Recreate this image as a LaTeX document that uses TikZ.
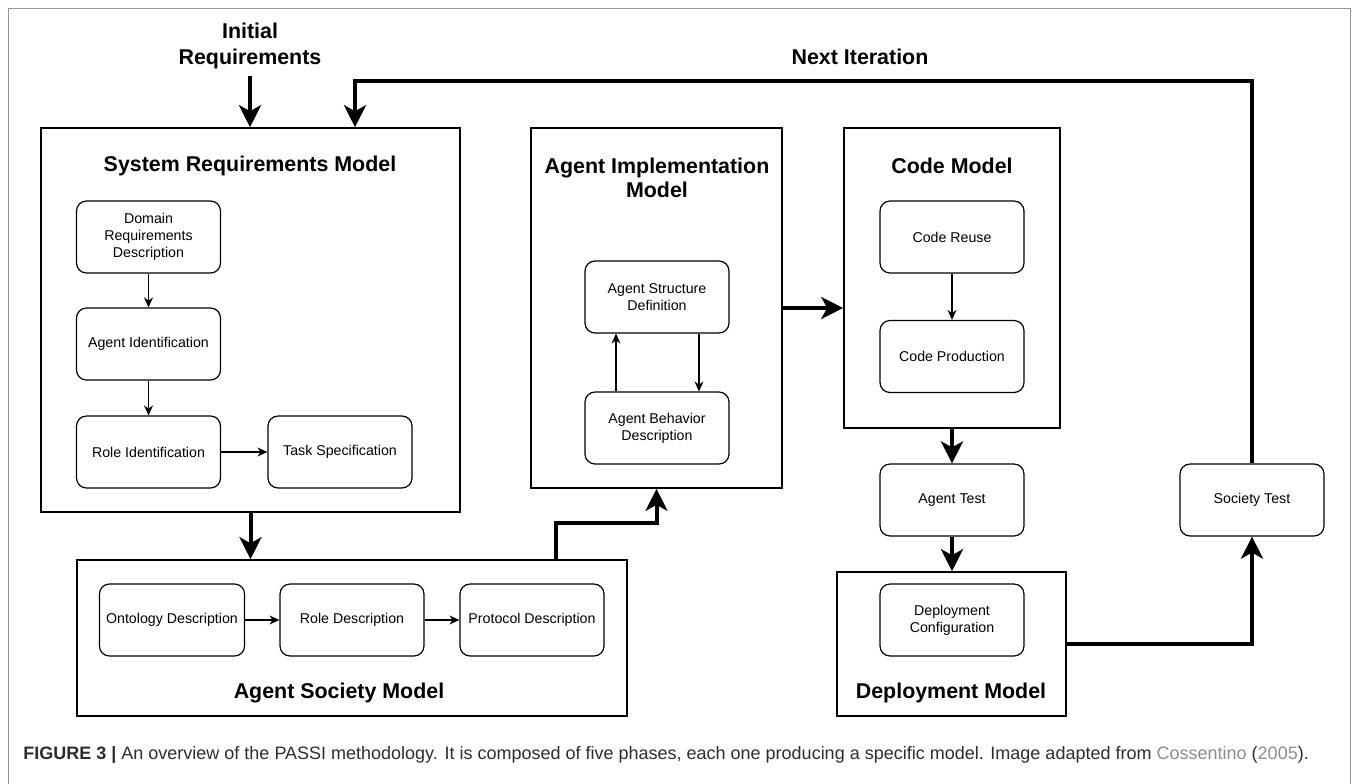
\documentclass[tikz,border=0pt]{standalone}
\usepackage{fontspec}
\setmainfont{Liberation Sans}
\usepackage{xcolor}
\definecolor{framegray}{RGB}{150,150,150}
\definecolor{linkgray}{RGB}{140,140,140}
\definecolor{captext}{RGB}{45,45,45}
\usepackage{tikz}
\usetikzlibrary{arrows.meta, positioning, calc}

\begin{document}
\begin{tikzpicture}[
    x=0.5pt, y=-0.5pt,
    >=Stealth,
    task/.style={draw, rectangle, rounded corners=5pt, minimum width=72pt, minimum height=36pt, align=center, line width=0.6pt, font=\fontsize{7.1}{8.5}\selectfont},
    phase/.style={draw, rectangle, line width=0.8pt, inner sep=0pt},
    phasetitle/.style={font=\fontsize{10.7}{12}\selectfont\bfseries, align=center},
    flow/.style={->, line width=0.6pt, >={Stealth[length=5pt, width=4.5pt]}},
    bigflow/.style={->, line width=2pt, >={Stealth[length=11pt, width=11pt, inset=3pt]}}
  ]
  \useasboundingbox (0,0) rectangle (1360,783);
  \draw[framegray, line width=0.5pt] (8,800) |- (1350,8) -- (1350,800);

  % Phase containers
  \node (srm) at (250.5, 320) [phase, minimum width=209.5pt, minimum height=192pt] {};
  \node (aim) at (656.5, 308) [phase, minimum width=125.5pt, minimum height=180pt] {};
  \node (cm) at (952, 278) [phase, minimum width=108pt, minimum height=150pt] {};
  \node (asm) at (352, 638) [phase, minimum width=275pt, minimum height=78pt] {};
  \node (dm) at (951.5, 644) [phase, minimum width=114.5pt, minimum height=72pt] {};

  % Titles
  \node (init) at (250, 46) [phasetitle, font=\fontsize{10.7}{13}\selectfont\bfseries] {Initial\\Requirements};
  \node (next) at (860, 57) [phasetitle] {Next Iteration};
  \node (srmtitle) at (250, 166) [phasetitle] {System Requirements Model};
  \node (aimtitle) at (657, 178) [phasetitle] {Agent Implementation\\Model};
  \node (cmtitle) at (952, 166) [phasetitle] {Code Model};
  \node (asmtitle) at (339, 693) [phasetitle] {Agent Society Model};
  \node (dmtitle) at (951, 693) [phasetitle] {Deployment Model};

  % System Requirements Model
  \node (drd) at (148.5, 237) [task] {Domain\\Requirements\\Description};
  \node (aid) at (148.5, 344) [task] {Agent Identification};
  \node (rid) at (148.5, 452) [task] {Role Identification};
  \node (tsp) at (340, 452) [task] {Task Specification};

  % Agent Society Model
  \node (ont) at (172, 620) [task] {Ontology Description};
  \node (rde) at (352, 620) [task] {Role Description};
  \node (pde) at (532, 620) [task] {Protocol Description};

  % Agent Implementation Model
  \node (asd) at (657, 297) [task] {Agent Structure\\Definition};
  \node (abd) at (657, 428) [task] {Agent Behavior\\Description};

  % Code Model, tests and deployment
  \node (cre) at (952, 237) [task] {Code Reuse};
  \node (cpr) at (952, 356.5) [task] {Code Production};
  \node (ate) at (952, 500) [task] {Agent Test};
  \node (dco) at (952, 620) [task] {Deployment\\Configuration};
  \node (ste) at (1252, 500) [task] {Society Test};

  % Caption
  \node (caption) at (23, 755) [anchor=west, inner sep=0pt, text=captext, font=\fontsize{9}{11}\selectfont] {\textbf{FIGURE 3 |} An overview of the PASSI methodology. It is composed of five phases, each one producing a specific model. Image adapted from \textcolor{linkgray}{Cossentino} (\textcolor{linkgray}{2005}).};

  % Bend points
  \coordinate (back) at (355, 81);
  \coordinate (bend) at (556, 523);
  \coordinate (lft) at (616, 0);
  \coordinate (rgt) at (699, 0);

  % Thin edges inside the phases
  \draw[flow] (drd) -- (aid);
  \draw[flow] (aid) -- (rid);
  \draw[flow] (rid) -- (tsp);
  \draw[flow] (ont) -- (rde);
  \draw[flow] (rde) -- (pde);
  \draw[flow] (cre) -- (cpr);
  \draw[flow] (abd.north -| lft) -- (asd.south -| lft);
  \draw[flow] (asd.south -| rgt) -- (abd.north -| rgt);

  % Thick edges between the phases
  \draw[bigflow] (init.south) -- (init.south |- srm.north);
  \draw[bigflow] (ste.north) |- (back) -- (back |- srm.north);
  \draw[bigflow] (srm.south) -- (srm.south |- asm.north);
  \draw[bigflow] (bend |- asm.north) -- (bend) -| (aim.south);
  \draw[bigflow] (aim.east) -- (aim.east -| cm.west);
  \draw[bigflow] (cm.south) -- (ate.north);
  \draw[bigflow] (ate.south) -- (ate.south |- dm.north);
  \draw[bigflow] (dm.east) -| (ste.south);

\end{tikzpicture}
\end{document}
